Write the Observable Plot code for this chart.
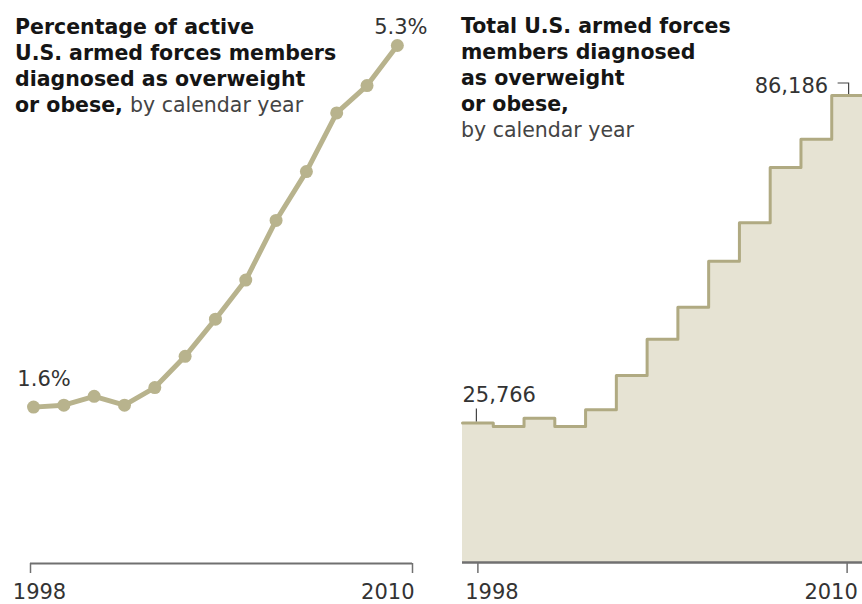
<!DOCTYPE html>
<html>
<head>
<meta charset="utf-8">
<script src="https://cdn.jsdelivr.net/npm/d3@7"></script>
<script src="https://cdn.jsdelivr.net/npm/@observablehq/plot@0.6"></script>
<style>
  body { margin: 0; background: #fff; font-family: "DejaVu Sans", sans-serif; }
  #wrap { position: relative; width: 862px; height: 604px; overflow: hidden; background: #fff; }
  .panel { position: absolute; top: 0; }
  .title { position: absolute; font-size: 20.5px; line-height: 26px; color: #151515; font-weight: bold; white-space: nowrap; }
  .title span { font-weight: normal; color: #444; }
</style>
</head>
<body>
<div id="wrap">
  <div id="left" class="panel" style="left:0px"></div>
  <div id="right" class="panel" style="left:440px"></div>
  <div class="title" style="left:15px;top:13.5px">Percentage of active<br>U.S. armed forces members<br>diagnosed as overweight<br>or obese, <span>by calendar year</span></div>
  <div class="title" style="left:461px;top:12.5px">Total U.S. armed forces<br>members diagnosed<br>as overweight<br>or obese,<br><span>by calendar year</span></div>
</div>
<script>
// ---- data ----
const years = [1998, 1999, 2000, 2001, 2002, 2003, 2004, 2005, 2006, 2007, 2008, 2009, 2010];
const pctOverweight = [1.6, 1.62, 1.71, 1.62, 1.8, 2.12, 2.5, 2.9, 3.51, 4.01, 4.61, 4.89, 5.3];
const countOverweight = [25766, 25100, 26600, 25100, 28200, 34500, 41200, 47100, 55600, 62700, 72900, 78100, 86186];
const tickLabels = ["1998", "2010"];
const pctLabels = ["1.6%", "5.3%"];
const countLabels = ["25,766", "86,186"];

// ---- styles ----
const olive = "#b8b38d";
const stepStroke = "#b0aa82";
const areaFill = "#e6e3d3";
const axisGray = "#707070";
const textColor = "#333";
const fontFamily = "DejaVu Sans, sans-serif";
const fs = 21;

// ---- left chart: percentage ----
const pctData = years.map((year, i) => ({year, value: pctOverweight[i]}));
const leftDomain = [1997.9, 2010.5];

const left = Plot.plot({
  width: 440,
  height: 604,
  marginLeft: 30,
  marginRight: 28,
  marginTop: 45,
  marginBottom: 41,
  style: {fontFamily, background: "transparent", overflow: "visible"},
  x: {domain: leftDomain, axis: null},
  y: {domain: [0, 5.3], axis: null},
  marks: [
    Plot.ruleY([0], {stroke: axisGray, strokeWidth: 2}),
    Plot.axisX({ticks: leftDomain, tickSize: 10, tickFormat: () => "", label: null, stroke: axisGray, strokeWidth: 1.5}),
    Plot.axisX({ticks: [leftDomain[0]], tickSize: 0, tickPadding: 21, tickFormat: () => tickLabels[0], label: null, fontSize: fs, fill: textColor, textAnchor: "middle", dx: 9}),
    Plot.axisX({ticks: [leftDomain[1]], tickSize: 0, tickPadding: 21, tickFormat: () => tickLabels[1], label: null, fontSize: fs, fill: textColor, textAnchor: "end", dx: 2}),
    Plot.line(pctData, {x: "year", y: "value", stroke: olive, strokeWidth: 5, strokeLinejoin: "round"}),
    Plot.dot(pctData, {x: "year", y: "value", r: 6.5, fill: olive, stroke: "none"}),
    Plot.text([pctData[0]], {x: "year", y: "value", text: () => pctLabels[0], lineAnchor: "bottom", textAnchor: "middle", dx: 10.5, dy: -21, fontSize: fs, fill: textColor}),
    Plot.text([pctData[pctData.length - 1]], {x: "year", y: "value", text: () => pctLabels[1], lineAnchor: "bottom", textAnchor: "middle", dx: 3.5, dy: -12, fontSize: fs, fill: textColor})
  ]
});
document.getElementById("left").append(left);

// ---- right chart: counts (step area) ----
const countData = years.map((year, i) => ({year, value: countOverweight[i]}));
const stepData = countData.map(d => ({x: d.year - 0.5, value: d.value}))
  .concat([{x: years[years.length - 1] + 0.5, value: countOverweight[countOverweight.length - 1]}]);
const rightDomain = [years[0] - 0.5, years[years.length - 1] + 0.5];
const first = countData[0];
const last = countData[countData.length - 1];

const connectors = (index, scales) => {
  const sx = scales.x, sy = scales.y;
  const g = d3.create("svg:g").attr("fill", "none").attr("stroke", "#444").attr("stroke-width", 1.2);
  const x0 = sx(first.year) - 1, y0 = sy(first.value);
  g.append("path").attr("d", `M${x0},${y0 - 1}V${y0 - 14}`);
  const x1 = sx(last.year) + 2, y1 = sy(last.value);
  g.append("path").attr("d", `M${x1 - 11},${y1 - 12}H${x1}V${y1 - 1}`);
  return g.node();
};

const right = Plot.plot({
  width: 422,
  height: 604,
  marginLeft: 22,
  marginRight: 0,
  marginTop: 95,
  marginBottom: 42,
  style: {fontFamily, background: "transparent", overflow: "visible"},
  x: {domain: rightDomain, axis: null},
  y: {domain: [0, last.value], axis: null},
  marks: [
    Plot.areaY(stepData, {x: "x", y: "value", curve: "step-after", fill: areaFill}),
    Plot.line(stepData, {x: "x", y: "value", curve: "step-after", stroke: stepStroke, strokeWidth: 3}),
    Plot.ruleY([0], {stroke: axisGray, strokeWidth: 2.5}),
    Plot.axisX({ticks: [years[0], years[years.length - 1]], tickSize: 11, tickFormat: () => "", label: null, stroke: axisGray, strokeWidth: 1.5}),
    Plot.axisX({ticks: [years[0]], tickSize: 0, tickPadding: 22, tickFormat: () => tickLabels[0], label: null, fontSize: fs, fill: textColor, textAnchor: "middle", dx: 14}),
    Plot.axisX({ticks: [years[years.length - 1]], tickSize: 0, tickPadding: 22, tickFormat: () => tickLabels[1], label: null, fontSize: fs, fill: textColor, textAnchor: "middle", dx: -16}),
    connectors,
    Plot.text([{x: rightDomain[0], value: first.value}], {x: "x", y: "value", text: () => countLabels[0], lineAnchor: "bottom", textAnchor: "start", dx: 0, dy: -21, fontSize: fs, fill: textColor}),
    Plot.text([last], {x: "year", y: "value", text: () => countLabels[1], lineAnchor: "bottom", textAnchor: "end", dx: -19, dy: -3, fontSize: fs, fill: textColor})
  ]
});
document.getElementById("right").append(right);
</script>
</body>
</html>
